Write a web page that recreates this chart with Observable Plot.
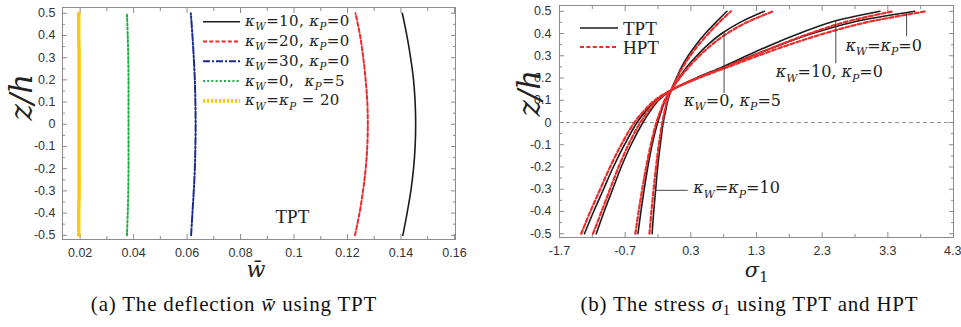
<!DOCTYPE html>
<html><head><meta charset="utf-8">
<script src="https://cdn.jsdelivr.net/npm/d3@7"></script>
<script src="https://cdn.jsdelivr.net/npm/@observablehq/plot@0.6"></script>
<style>
body{margin:0;background:#fff;width:961px;height:327px;overflow:hidden;position:relative;font-family:"Liberation Serif",serif}
#a{position:absolute;left:0;top:0}
#b{position:absolute;left:480px;top:0}
.cap{position:absolute;top:292px;font-size:21px;letter-spacing:0.8px;text-align:center;color:#111;white-space:nowrap}
.cap sub{font-size:70%;vertical-align:-0.25em;line-height:0}
</style></head><body>
<div id="a"></div><div id="b"></div>
<div class="cap" style="left:0;width:468px">(a) The deflection <i>w̄</i> using TPT</div>
<div class="cap" style="left:480px;width:539px">(b) The stress <i>σ</i><sub>1</sub> using TPT and HPT</div>
<script>
// ---------- data: panel (a) deflection w̄ vs z/h ----------
const zA = [-0.5,-0.4,-0.3,-0.2,-0.1,0,0.1,0.2,0.3,0.4,0.5];
const wKw10Kp0 = [0.1407,0.1423,0.1437,0.1447,0.1453,0.1455,0.1453,0.1447,0.1436,0.1422,0.1405];
const wKw20Kp0 = [0.1228,0.1245,0.1258,0.1268,0.1274,0.1276,0.1274,0.1268,0.1259,0.1247,0.1230];
const wKw30Kp0 = [0.0615,0.0620,0.0625,0.0629,0.0631,0.0632,0.0631,0.0629,0.0625,0.0620,0.0614];
const wKw0Kp5  = [0.0375,0.0378,0.0380,0.0381,0.0381,0.0381,0.0381,0.0381,0.0380,0.0378,0.0375];
const wKwKp20  = [0.0195,0.0195,0.0196,0.0196,0.0196,0.0196,0.0196,0.0196,0.0196,0.0195,0.0195];
const labelsA = ["κW=10, κP=0","κW=20, κP=0","κW=30, κP=0","κW=0,  κP=5","κW=κP = 20"];

// ---------- data: panel (b) stress σ1 vs z/h ----------
const zB = [-0.5,-0.4,-0.3,-0.2,-0.1,0,0.05,0.1,0.145,0.2,0.25,0.3,0.35,0.4,0.45,0.5];
const sK00_TPT = [-1.32,-1.18,-1.03,-0.88,-0.71,-0.52,-0.39,-0.23,0.0,0.40,0.82,1.23,1.67,2.15,2.75,3.71];
const sK00_HPT = [-1.37,-1.23,-1.08,-0.93,-0.76,-0.56,-0.42,-0.25,0.0,0.42,0.87,1.32,1.80,2.33,2.97,3.885];
const sK10_TPT = [-1.14,-1.02,-0.89,-0.76,-0.61,-0.43,-0.32,-0.19,0.0,0.38,0.78,1.15,1.53,1.95,2.42,3.18];
const sK10_HPT = [-1.19,-1.06,-0.93,-0.80,-0.65,-0.47,-0.35,-0.21,0.0,0.40,0.83,1.24,1.66,2.11,2.63,3.378];
const sK05_TPT = [-0.505,-0.46,-0.41,-0.355,-0.29,-0.205,-0.15,-0.09,0.0,0.12,0.24,0.39,0.56,0.77,1.05,1.42];
const sK05_HPT = [-0.545,-0.495,-0.44,-0.38,-0.31,-0.225,-0.165,-0.10,0.0,0.13,0.27,0.43,0.62,0.85,1.15,1.555];
const sK1010_TPT = [-0.29,-0.265,-0.235,-0.205,-0.165,-0.12,-0.085,-0.05,0.0,0.08,0.16,0.26,0.38,0.52,0.68,0.85];
const sK1010_HPT = [-0.33,-0.30,-0.267,-0.23,-0.188,-0.135,-0.10,-0.06,0.0,0.09,0.18,0.29,0.42,0.57,0.73,0.91];
const theories = ["TPT","HPT"];
const annLabels = ["κW=κP=0","κW=10, κP=0","κW=0, κP=5","κW=κP=10"];

// ---------- tick labels ----------
const xTicksA = [0.02,0.04,0.06,0.08,0.1,0.12,0.14,0.16];
const xMinorA = [0.03,0.05,0.07,0.09,0.11,0.13,0.15];
const xTicksB = [-1.7,-0.7,0.3,1.3,2.3,3.3,4.3];
const xMinorB = [-1.2,-0.2,0.8,1.8,2.8,3.8];
const yTicks = [-0.5,-0.4,-0.3,-0.2,-0.1,0,0.1,0.2,0.3,0.4,0.5];
const yMinor = [-0.45,-0.35,-0.25,-0.15,-0.05,0.05,0.15,0.25,0.35,0.45];

// ---------- styles ----------
const TC = "#8c8c8c", LC = "#333";
const BLACK = "#1c1c1c", RED = "#ee2b2b";
const stylesA = [
  {stroke: BLACK, strokeWidth: 1.6, strokeDasharray: null},
  {stroke: RED, strokeWidth: 2, strokeDasharray: "4,2.2"},
  {stroke: "#1b2d8c", strokeWidth: 2, strokeDasharray: "7,2,2,2"},
  {stroke: "#22ad44", strokeWidth: 2, strokeDasharray: "2,2.2"},
  {stroke: "#ffc800", strokeWidth: 3.6, strokeDasharray: "2.2,1.8"}
];
const stylesB = {
  TPT: {stroke: BLACK, strokeWidth: 1.6, strokeDasharray: null},
  HPT: {stroke: RED, strokeWidth: 2.2, strokeDasharray: "4,2.4"}
};

function frameAxes(xMaj, xMin, yPad) {
  return [
    Plot.axisX({ticks: xMaj, tickSize: -5, tickPadding: 14, tickFormat: d => String(d), stroke: TC, fill: LC, label: null}),
    Plot.axisX({ticks: xMin, tickSize: -3, stroke: TC, fill: "none", label: null}),
    Plot.axisX({anchor: "top", ticks: xMaj, tickSize: -5, stroke: TC, fill: "none", label: null}),
    Plot.axisX({anchor: "top", ticks: xMin, tickSize: -3, stroke: TC, fill: "none", label: null}),
    Plot.axisY({ticks: yTicks, tickSize: -5, tickPadding: yPad, tickFormat: d => String(d), stroke: TC, fill: LC, label: null}),
    Plot.axisY({ticks: yMinor, tickSize: -3, stroke: TC, fill: "none", label: null}),
    Plot.axisY({anchor: "right", ticks: yTicks, tickSize: -5, stroke: TC, fill: "none", label: null}),
    Plot.axisY({anchor: "right", ticks: yMinor, tickSize: -3, stroke: TC, fill: "none", label: null}),
    Plot.frame({stroke: TC, strokeWidth: 1})
  ];
}

// rich text: κ/σ italic, W/P/1 as subscripts
function rich(sel, s, fs) {
  sel.text(null);
  let pend = 0;
  for (const p of s.split(/([κσ][WP1])/)) {
    if (!p) continue;
    const m = /^([κσ])([WP1])$/.exec(p);
    if (m) {
      const a = sel.append("tspan").attr("font-style", "italic").text(m[1]);
      if (pend) { a.attr("dy", pend); pend = 0; }
      sel.append("tspan").attr("font-style", m[2] === "1" ? "normal" : "italic")
        .attr("font-size", fs * 0.68).attr("dy", fs * 0.28).text(m[2]);
      pend = -fs * 0.28;
    } else {
      const t = sel.append("tspan").text(p);
      if (pend) { t.attr("dy", pend); pend = 0; }
    }
  }
}
function richify(svg) {
  d3.select(svg).selectAll("text").each(function() {
    const s = this.textContent;
    if (/[κσ][WP1]/.test(s)) rich(d3.select(this), s, parseFloat(getComputedStyle(this).fontSize));
  });
}

// ---------- panel (a) ----------
const seriesA = [wKw10Kp0, wKw20Kp0, wKw30Kp0, wKw0Kp5, wKwKp20];
const rowsA = seriesA.map((ws, i) => ws.map((w, j) => ({w, z: zA[j], s: labelsA[i]})));
const chartA = Plot.plot({
  width: 480, height: 280,
  marginTop: 7, marginBottom: 41, marginLeft: 62, marginRight: 25,
  x: {domain: [0.0134, 0.1604], label: null},
  y: {domain: [-0.519, 0.526], label: null},
  style: {fontFamily: "'Liberation Sans', Arial, sans-serif", fontSize: "12.5px", background: "white", overflow: "visible"},
  marks: [
    ...frameAxes(xTicksA, xMinorA, 12),
    ...rowsA.map((rows, i) => Plot.line(rows, {x: "w", y: "z", curve: "catmull-rom", ...stylesA[i]})),
    Plot.text(["TPT"], {frameAnchor: "bottom-left", dx: 213, dy: -17, text: d => d, fontFamily: "'Liberation Serif', serif", fontSize: 19, fill: "#222"}),
    Plot.text(["z/h"], {frameAnchor: "left", dx: -40, dy: -3, rotate: -90, text: d => d, fontFamily: "'DejaVu Serif', serif", fontStyle: "italic", fontSize: 31, fill: "#222"}),
    Plot.text(["w̄"], {frameAnchor: "bottom", dx: -3, dy: 37, text: d => d, fontFamily: "'DejaVu Serif', serif", fontStyle: "italic", fontSize: 22, fill: "#222"})
  ]
});
document.getElementById("a").append(chartA);
{
  const g = d3.select(chartA).append("g").attr("font-family", "'DejaVu Serif', serif").attr("font-size", 15).attr("fill", "#222").attr("text-anchor", "start");
  labelsA.forEach((lab, i) => {
    const y = 21.7 + i * 19.8;
    const st = stylesA[i];
    g.append("line").attr("x1", 203).attr("x2", 240).attr("y1", y).attr("y2", y)
      .attr("stroke", st.stroke).attr("stroke-width", st.strokeWidth).attr("stroke-dasharray", st.strokeDasharray);
    const t = g.append("text").attr("x", 245).attr("y", y + 4.5).attr("letter-spacing", 0.4);
    rich(t, lab, 15);
  });
}

// ---------- panel (b) ----------
const seriesB = [
  ["TPT", sK00_TPT], ["HPT", sK00_HPT], ["TPT", sK10_TPT], ["HPT", sK10_HPT],
  ["TPT", sK05_TPT], ["HPT", sK05_HPT], ["TPT", sK1010_TPT], ["HPT", sK1010_HPT]
];
const ann = [
  {label: annLabels[0], px: 3.586, p1: 0.493, p2: 0.385, tx: 3.237, ty: 0.346},
  {label: annLabels[1], px: 2.508, p1: 0.455, p2: 0.264, tx: 2.41, ty: 0.226},
  {label: annLabels[2], px: 0.806, p1: 0.406, p2: 0.13, tx: 0.935, ty: 0.099}
];
const ann4 = [{label: annLabels[3], x1: -0.236, x2: 0.26, y: -0.305, tx: 0.335, ty: -0.296}];
const chartB = Plot.plot({
  width: 481, height: 280,
  marginTop: 5, marginBottom: 43, marginLeft: 79, marginRight: 8,
  x: {domain: [-1.7, 4.3], label: null},
  y: {domain: [-0.517, 0.526], label: null},
  style: {fontFamily: "'Liberation Sans', Arial, sans-serif", fontSize: "12.5px", background: "white", overflow: "visible"},
  marks: [
    Plot.ruleY([0], {stroke: "#777", strokeWidth: 0.8, strokeDasharray: "4,3"}),
    ...frameAxes(xTicksB, xMinorB, 13),
    ...seriesB.filter(d => d[0] === "TPT").map(([th, s]) => Plot.line(s.map((v, j) => ({s: v, z: zB[j]})), {x: "s", y: "z", curve: "catmull-rom", ...stylesB[th]})),
    ...seriesB.filter(d => d[0] === "HPT").map(([th, s]) => Plot.line(s.map((v, j) => ({s: v, z: zB[j]})), {x: "s", y: "z", curve: "catmull-rom", ...stylesB[th]})),
    Plot.ruleX(ann, {x: "px", y1: "p1", y2: "p2", stroke: "#333", strokeWidth: 0.9}),
    Plot.ruleY(ann4, {y: "y", x1: "x1", x2: "x2", stroke: "#333", strokeWidth: 0.9}),
    Plot.text(ann, {x: "tx", y: "ty", text: "label", textAnchor: "middle", fontFamily: "'DejaVu Serif', serif", fontSize: 16, fill: "#222"}),
    Plot.text(ann4, {x: "tx", y: "ty", text: "label", textAnchor: "start", fontFamily: "'DejaVu Serif', serif", fontSize: 16, fill: "#222"}),
    Plot.text(["z/h"], {frameAnchor: "left", dx: -29, dy: -5, rotate: -90, text: d => d, fontFamily: "'DejaVu Serif', serif", fontStyle: "italic", fontSize: 31, fill: "#222"}),
    Plot.text(["σ1"], {frameAnchor: "bottom", dx: 0, dy: 39, text: d => d, fontFamily: "'DejaVu Serif', serif", fontSize: 21, fill: "#222"})
  ]
});
document.getElementById("b").append(chartB);
// keep the last x tick label inside the page edge
d3.select(chartB).selectAll("text").filter(function() { return this.textContent === "4.3"; }).attr("text-anchor", "end").attr("dx", 8);
{
  const g = d3.select(chartB).append("g").attr("font-family", "'Liberation Serif', serif").attr("font-size", 19).attr("fill", "#222").attr("text-anchor", "start");
  theories.forEach((th, i) => {
    const y = 28 + i * 19;
    const st = stylesB[th];
    g.append("line").attr("x1", 100).attr("x2", 138).attr("y1", y).attr("y2", y)
      .attr("stroke", st.stroke).attr("stroke-width", st.strokeWidth).attr("stroke-dasharray", st.strokeDasharray);
    g.append("text").attr("x", 143).attr("y", y + 6.5).text(th);
  });
}
richify(chartA); richify(chartB);
</script>
</body></html>
